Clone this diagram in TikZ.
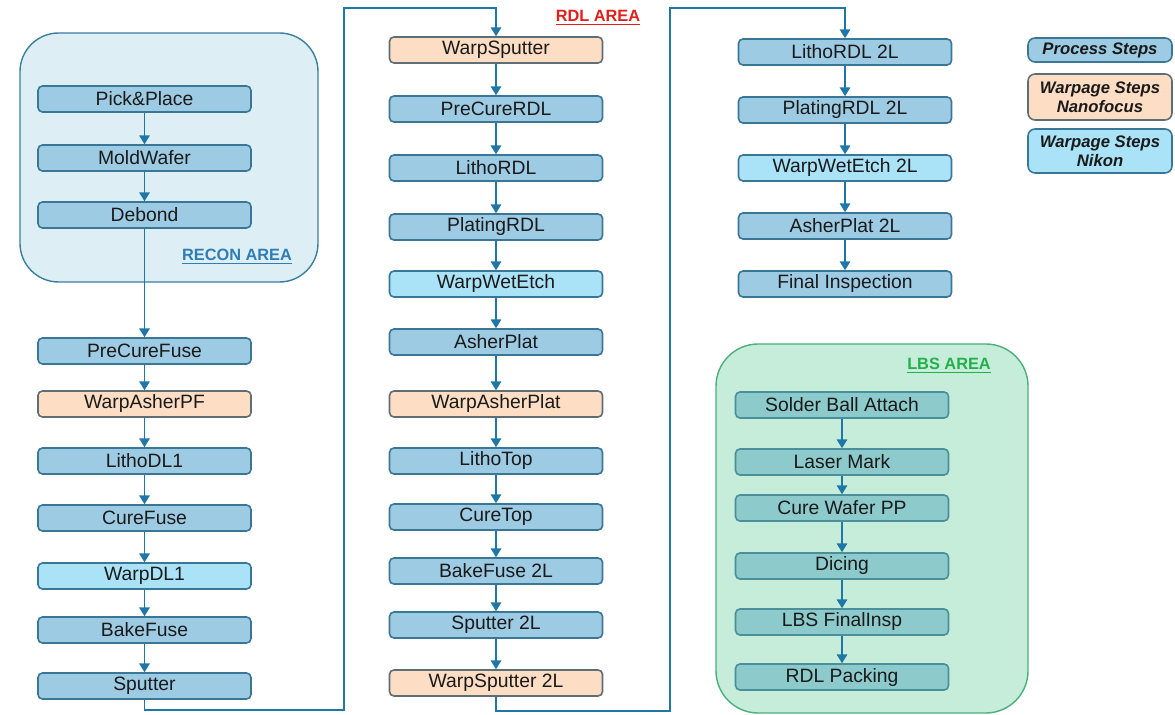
\documentclass[tikz,border=0pt]{standalone}
\usepackage{fontspec}
\setmainfont{Liberation Sans}
\usetikzlibrary{arrows.meta}
\definecolor{procfill}{HTML}{9DCBE3}
\definecolor{procdraw}{HTML}{3A7696}
\definecolor{nanofill}{HTML}{FDDDC3}
\definecolor{nanodraw}{HTML}{5E6E74}
\definecolor{nikonfill}{HTML}{AAE2F7}
\definecolor{lbsfill}{HTML}{8CCACB}
\definecolor{lbsdraw}{HTML}{4A8F9A}
\definecolor{arrowcol}{HTML}{1F77A8}
\definecolor{reconfill}{HTML}{DDEEF5}
\definecolor{recondraw}{HTML}{3A7FA0}
\definecolor{lbsareafill}{HTML}{C6EDD9}
\definecolor{lbsareadraw}{HTML}{4DAE7E}
\definecolor{recontext}{HTML}{2E7DB5}
\definecolor{rdltext}{HTML}{E0201B}
\definecolor{lbstext}{HTML}{22B04C}
\definecolor{boxtext}{HTML}{1A1A1A}

\begin{document}
\begin{tikzpicture}[x=0.02cm,y=-0.02cm,
    procbox/.style={draw=procdraw,fill=procfill,line width=0.9pt,rounded corners=2.5pt,
        minimum width=4.26cm,minimum height=0.52cm,inner sep=0pt,text=boxtext,
        font=\fontsize{11}{13}\selectfont},
    nanobox/.style={procbox,draw=nanodraw,fill=nanofill},
    nikonbox/.style={procbox,fill=nikonfill},
    lbsbox/.style={procbox,draw=lbsdraw,fill=lbsfill},
    legbox/.style={draw=procdraw,fill=procfill,line width=0.9pt,rounded corners=4pt,
        minimum width=2.88cm,inner sep=0pt,align=center,text=boxtext,
        font=\fontsize{9.5}{11}\selectfont\bfseries\itshape},
    arealabel/.style={font=\fontsize{9.3}{11}\selectfont\bfseries},
    flow/.style={draw=arrowcol,line width=0.7pt,-{Triangle[width=6pt,length=5pt]}}]
\useasboundingbox (0,0) rectangle (1175,715);

% areas
\draw[fill=reconfill,draw=recondraw,line width=0.8pt,rounded corners=22pt] (20,33) rectangle (318,282);
\draw[fill=lbsareafill,draw=lbsareadraw,line width=0.8pt,rounded corners=24pt] (716,344) rectangle (1028,713);
\node[arealabel,text=recontext] (reconlbl) at (237,257) {\underline{RECON AREA}};
\node[arealabel,text=rdltext] (rdllbl) at (598,18) {\underline{RDL AREA}};
\node[arealabel,text=lbstext] (lbslbl) at (949,366) {\underline{LBS AREA}};

% column 1
\node[procbox] (pick) at (144.5,99) {Pick\&Place};
\node[procbox] (mold) at (144.5,158) {MoldWafer};
\node[procbox] (debond) at (144.5,215) {Debond};
\node[procbox] (precurefuse) at (144.5,351) {PreCureFuse};
\node[nanobox] (warpasherpf) at (144.5,404) {WarpAsherPF};
\node[procbox] (lithodl) at (144.5,461) {LithoDL1};
\node[procbox] (curefuse) at (144.5,518) {CureFuse};
\node[nikonbox] (warpdl) at (144.5,576) {WarpDL1};
\node[procbox] (bakefuse) at (144.5,630) {BakeFuse};
\node[procbox] (sputter) at (144.5,686) {Sputter};

% column 2
\node[nanobox] (warpsputter) at (496,50) {WarpSputter};
\node[procbox] (precurerdl) at (496,109) {PreCureRDL};
\node[procbox] (lithordl) at (496,168) {LithoRDL};
\node[procbox] (platingrdl) at (496,227) {PlatingRDL};
\node[nikonbox] (warpwetetch) at (496,284) {WarpWetEtch};
\node[procbox] (asherplat) at (496,342) {AsherPlat};
\node[nanobox] (warpasherplat) at (496,404) {WarpAsherPlat};
\node[procbox] (lithotop) at (496,461) {LithoTop};
\node[procbox] (curetop) at (496,517) {CureTop};
\node[procbox] (bakefusetwo) at (496,571) {BakeFuse 2L};
\node[procbox] (sputtertwo) at (496,625) {Sputter 2L};
\node[nanobox] (warpsputtertwo) at (496,683) {WarpSputter 2L};

% column 3
\node[procbox] (lithordltwo) at (845,52) {LithoRDL 2L};
\node[procbox] (platingrdltwo) at (845,110) {PlatingRDL 2L};
\node[nikonbox] (warpwetetchtwo) at (845,168) {WarpWetEtch 2L};
\node[procbox] (asherplattwo) at (845,226) {AsherPlat 2L};
\node[procbox] (finalinsp) at (845,284) {Final Inspection};

% LBS
\node[lbsbox] (solder) at (842,405) {Solder Ball Attach};
\node[lbsbox] (laser) at (842,462) {Laser Mark};
\node[lbsbox] (curewafer) at (842,508) {Cure Wafer PP};
\node[lbsbox] (dicing) at (842,566) {Dicing};
\node[lbsbox] (lbsinsp) at (842,622) {LBS FinalInsp};
\node[lbsbox] (packing) at (842,677) {RDL Packing};

% legend
\node[legbox,minimum height=0.48cm] (legproc) at (1100,50) {Process Steps};
\node[legbox,draw=nanodraw,fill=nanofill,minimum height=0.92cm] (legnano) at (1100,97) {Warpage Steps\\Nanofocus};
\node[legbox,fill=nikonfill,minimum height=0.88cm] (legnikon) at (1100,151) {Warpage Steps\\Nikon};

% flow
\foreach \a/\b in {pick/mold,mold/debond,debond/precurefuse,precurefuse/warpasherpf,
    warpasherpf/lithodl,lithodl/curefuse,curefuse/warpdl,warpdl/bakefuse,bakefuse/sputter,
    warpsputter/precurerdl,precurerdl/lithordl,lithordl/platingrdl,platingrdl/warpwetetch,
    warpwetetch/asherplat,asherplat/warpasherplat,warpasherplat/lithotop,lithotop/curetop,
    curetop/bakefusetwo,bakefusetwo/sputtertwo,sputtertwo/warpsputtertwo,
    lithordltwo/platingrdltwo,platingrdltwo/warpwetetchtwo,warpwetetchtwo/asherplattwo,
    asherplattwo/finalinsp,
    solder/laser,laser/curewafer,curewafer/dicing,dicing/lbsinsp,lbsinsp/packing}
  \draw[flow] (\a) -- (\b);

\coordinate (loopa) at (344,710);
\coordinate (loopb) at (344,8);
\coordinate (loopc) at (670,711);
\coordinate (loopd) at (670,8);
\draw[flow] (sputter.south) |- (loopa) -- (loopb) -| (warpsputter.north);
\draw[flow] (warpsputtertwo.south) |- (loopc) -- (loopd) -| (lithordltwo.north);
\end{tikzpicture}
\end{document}
